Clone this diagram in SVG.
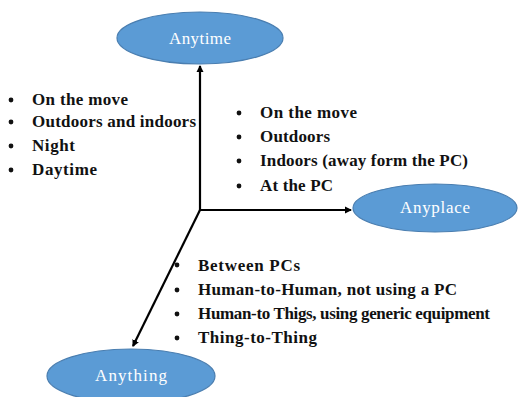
<svg xmlns="http://www.w3.org/2000/svg" width="519" height="397" viewBox="0 0 519 397">
<defs>
<marker id="ah" markerWidth="8" markerHeight="8" refX="6" refY="4" orient="auto" markerUnits="userSpaceOnUse">
<path d="M0,0.5 L7,4 L0,7.5 Z" fill="#000"/>
</marker>
<style>
.node ellipse{fill:#5B9BD5;stroke:#4A7EB0;stroke-width:1.2}
.node text{fill:#fff;font-family:"Liberation Serif",serif;font-size:17px;text-anchor:middle}
.lst{font-family:"Liberation Serif",serif;font-size:17px;font-weight:bold;fill:#111}
.bul{fill:#111}
.conn line{stroke:#000;stroke-width:2.2;marker-end:url(#ah)}
</style>
</defs>
<rect width="519" height="397" fill="#fff"/>
<g id="connectors" class="conn">
<line x1="200" y1="211" x2="200" y2="66"/>
<line x1="199" y1="210" x2="351" y2="210"/>
<line x1="200" y1="210" x2="133" y2="346"/>
</g>
<g id="anytime" class="node">
<ellipse cx="200" cy="38" rx="83" ry="26"/>
<text x="200" y="44" textLength="62">Anytime</text>
</g>
<g id="anyplace" class="node">
<ellipse cx="435" cy="208" rx="82" ry="24"/>
<text x="435" y="213" textLength="70">Anyplace</text>
</g>
<g id="anything" class="node">
<ellipse cx="131" cy="376" rx="84" ry="27"/>
<text x="131" y="381" textLength="72">Anything</text>
</g>
<g id="list-time" class="lst">
<circle class="bul" cx="11" cy="100" r="2.4"/><text x="32" y="105" textLength="96">On the move</text>
<circle class="bul" cx="11" cy="122" r="2.4"/><text x="32" y="127" textLength="164">Outdoors and indoors</text>
<circle class="bul" cx="11" cy="146" r="2.4"/><text x="32" y="151" textLength="43">Night</text>
<circle class="bul" cx="11" cy="170" r="2.4"/><text x="32" y="175" textLength="65">Daytime</text>
</g>
<g id="list-place" class="lst">
<circle class="bul" cx="239" cy="113" r="2.4"/><text x="260" y="118" textLength="97">On the move</text>
<circle class="bul" cx="239" cy="137" r="2.4"/><text x="260" y="142" textLength="70">Outdoors</text>
<circle class="bul" cx="239" cy="161" r="2.4"/><text x="260" y="166" textLength="208">Indoors (away form the PC)</text>
<circle class="bul" cx="239" cy="186" r="2.4"/><text x="260" y="191" textLength="73">At the PC</text>
</g>
<g id="list-thing" class="lst">
<circle class="bul" cx="177" cy="265" r="2.4"/><text x="198" y="271" textLength="102">Between PCs</text>
<circle class="bul" cx="177" cy="290" r="2.4"/><text x="198" y="295" textLength="259">Human-to-Human, not using a PC</text>
<circle class="bul" cx="177" cy="314" r="2.4"/><text x="198" y="319" textLength="292">Human-to Thigs, using generic equipment</text>
<circle class="bul" cx="177" cy="338" r="2.4"/><text x="198" y="343" textLength="119">Thing-to-Thing</text>
</g>
</svg>
